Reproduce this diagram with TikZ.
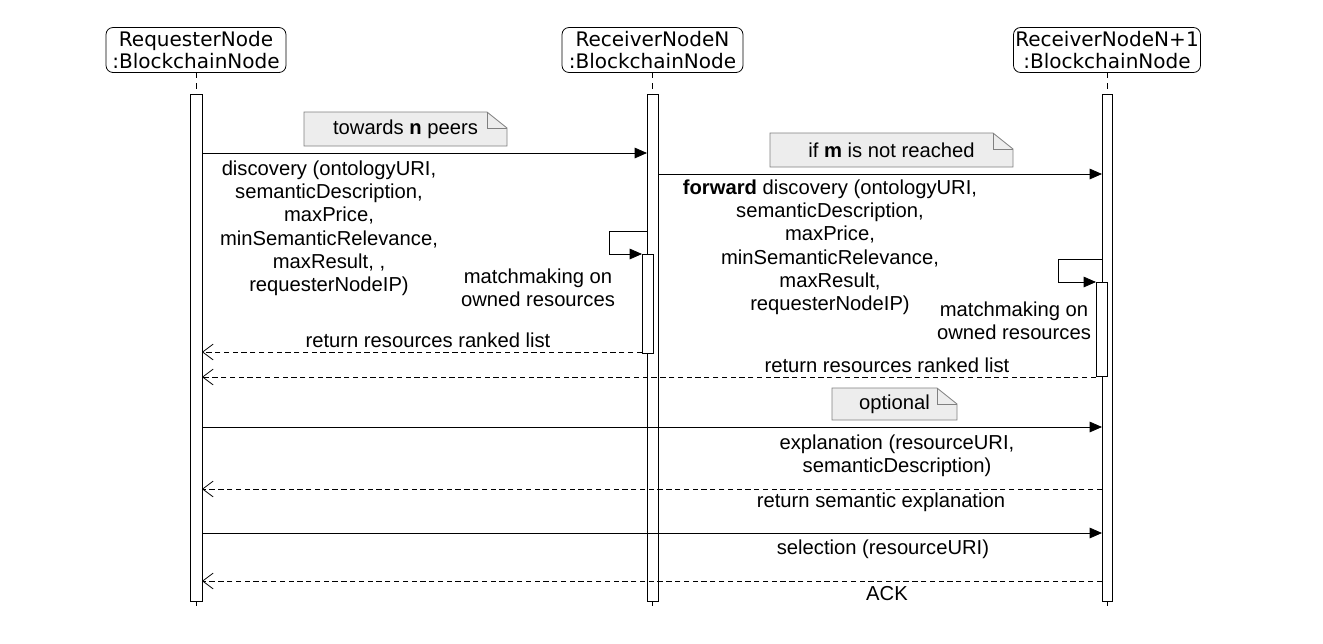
\documentclass[tikz,border=0pt]{standalone}
\usepackage{fontspec}
\setmainfont{Liberation Sans}
\newfontfamily\headfont{DejaVu Sans}
\usetikzlibrary{arrows.meta}
\tikzset{
	head/.style={draw, rounded corners=4pt, align=center, font=\headfont\fontsize{11.4}{13}\selectfont, inner xsep=1pt, inner ysep=1pt, minimum height=45*0.02cm},
	bar/.style={draw, fill=white},
	call/.style={-{Triangle[length=7pt,width=6pt]}},
	ret/.style={densely dashed, -{Straight Barb[length=6pt,width=9pt]}},
	lbl/.style={align=center, inner sep=0pt, font=\fontsize{11.5}{13.3}\selectfont},
	notebox/.style={draw=gray, fill=gray!14}
}
\newcommand\foldnote[5]{%
	\path[notebox] (#1,#4) -- (#1,#2) -- (#3-20,#2) -- (#3,#2+16) -- (#3,#4) -- cycle;
	\draw[gray] (#3-20,#2) -- (#3-20,#2+16) -- (#3,#2+16);
	\node[lbl] at ({(#1+#3)/2},{(#2+#4)/2}) {#5};
}
\begin{document}
\begin{tikzpicture}[x=0.02cm, y=-0.02cm, line width=0.45pt]
		\useasboundingbox (0,0) rectangle (1323,643);
		%heads
		\node[head, minimum width=180*0.02cm] (req) at (196,50) {RequesterNode\\:BlockchainNode};
		\node[head, minimum width=181*0.02cm] (recn) at (652.5,50) {ReceiverNodeN\\:BlockchainNode};
		\node[head, minimum width=182*0.02cm] (recm) at (1107,50) {ReceiverNodeN+1\\:BlockchainNode};
		%lifelines
		\foreach \n/\x in {req/196, recn/652.5, recm/1107}{
			\draw[dashed] (\n.south) -- (\x,94);
			\draw[dashed] (\x,601) -- (\x,610);
		}
		\draw[bar] (190,94) rectangle (202,601);
		\draw[bar] (647,94) rectangle (658,601);
		\draw[bar] (1102,94) rectangle (1112,601);
		\draw[bar] (642,254) rectangle (653,353);
		\draw[bar] (1096,282) rectangle (1107,376);
		%message ends
		\foreach \y in {153, 352, 377, 427, 489, 533, 581}
			\coordinate (q\y) at (202,\y);
		\coordinate (n153) at (647,153);
		\coordinate (n174) at (658,174);
		\coordinate (n352) at (642,352);
		\coordinate (n231) at (647,231);
		\coordinate (n254) at (642,254);
		\foreach \y in {174, 427, 489, 533, 581}
			\coordinate (m\y) at (1102,\y);
		\coordinate (m377) at (1096,377);
		\coordinate (m259) at (1102,259);
		\coordinate (m282) at (1096,282);
		%notes
		\foldnote{304}{112}{507}{146}{towards \textbf{n} peers}
		\foldnote{770}{133}{1013}{167}{if \textbf{m} is not reached}
		\foldnote{832}{388}{957}{420}{optional}
		%messages
		\draw[call] (q153) -- (n153);
		\node[lbl, anchor=north] (disc) at (329,160) {discovery (ontologyURI,\\semanticDescription,\\maxPrice,\\minSemanticRelevance,\\maxResult, ,\\requesterNodeIP)};
		\draw[call] (n174) -- (m174);
		\node[lbl, anchor=north] (fwd) at (830,179) {\textbf{forward} discovery (ontologyURI,\\semanticDescription,\\maxPrice,\\minSemanticRelevance,\\maxResult,\\requesterNodeIP)};
		\draw[call] (n231) -| (609,254) -- (n254);
		\node[lbl] (mmn) at (538,288) {matchmaking on\\owned resources};
		\draw[call] (m259) -| (1058,282) -- (m282);
		\node[lbl] (mmm) at (1014,321) {matchmaking on\\owned resources};
		\draw[ret] (n352) -- (q352);
		\node[lbl] (rn) at (428,340) {return resources ranked list};
		\draw[ret] (m377) -- (q377);
		\node[lbl] (rm) at (887,365) {return resources ranked list};
		\draw[call] (q427) -- (m427);
		\node[lbl] (expl) at (897,456) {explanation (resourceURI,\\semanticDescription)};
		\draw[ret] (m489) -- (q489);
		\node[lbl] (rexpl) at (881,502) {return semantic explanation};
		\draw[call] (q533) -- (m533);
		\node[lbl] (sel) at (883,549) {selection (resourceURI)};
		\draw[ret] (m581) -- (q581);
		\node[lbl] (ack) at (887,594) {ACK};
\end{tikzpicture}
\end{document}
